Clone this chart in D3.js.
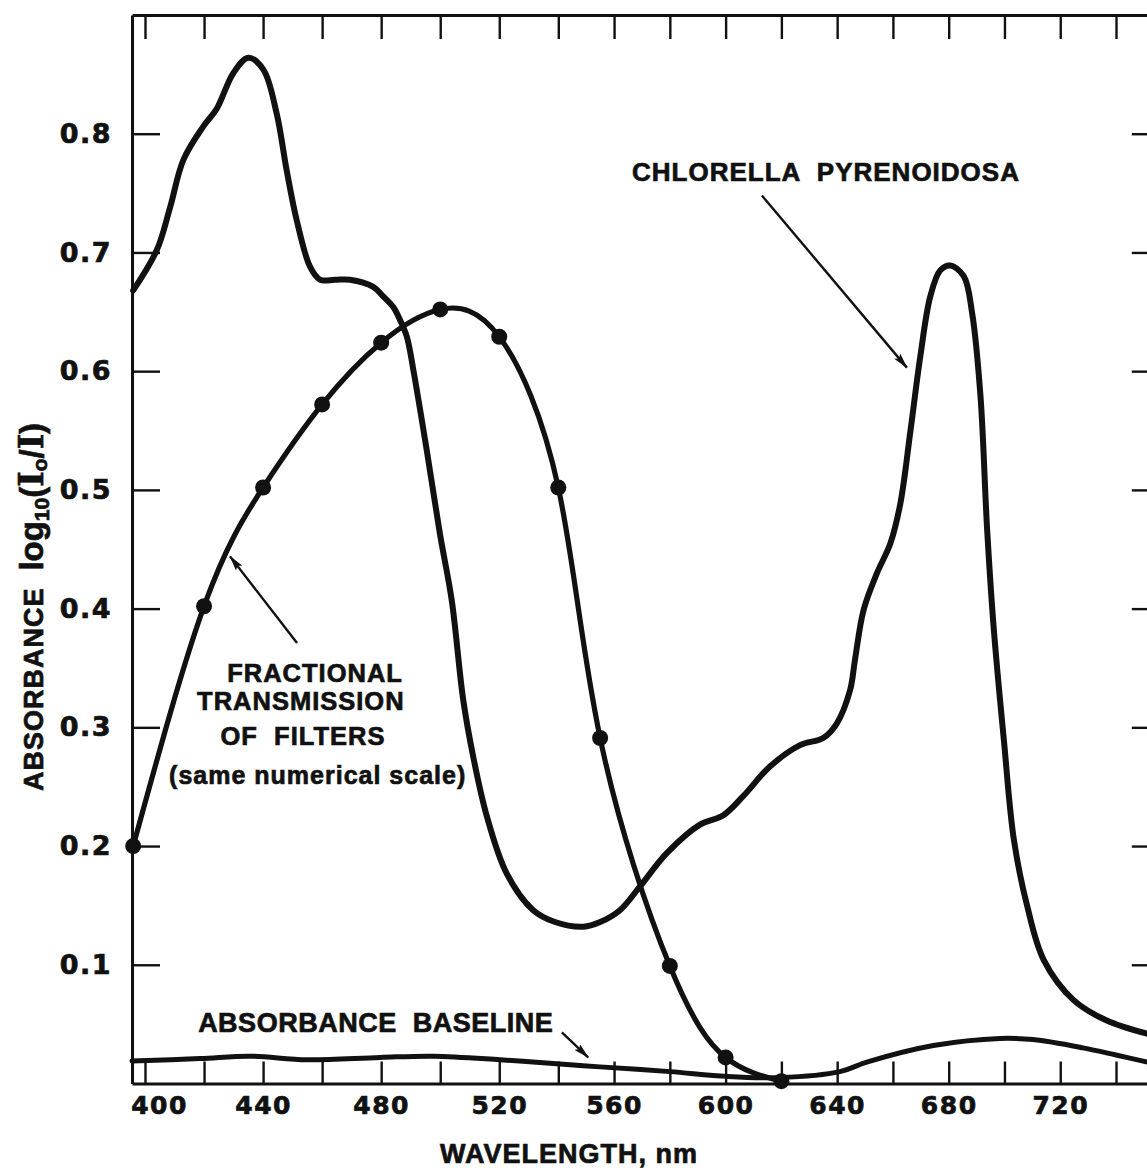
<!DOCTYPE html>
<html>
<head>
<meta charset="utf-8">
<script src="https://cdn.jsdelivr.net/npm/d3@7"></script>
<style>
  html, body { margin: 0; padding: 0; background: #fff; }
  svg { display: block; }
  text { font-family: "Liberation Sans", Arial, sans-serif; font-weight: bold; fill: #111; stroke: #111; stroke-width: 0.7px; }
</style>
</head>
<body>
<svg id="chart" width="1147" height="1170"></svg>
<script>
// Absorbance spectrum of a Chlorella pyrenoidosa suspension (wavelength in nm, log10(I0/I))
const chlorellaNm = [396, 404, 408.5, 413, 419.7, 424.3, 429.9, 435, 440.1, 444.6,
  448, 451.4, 455.9, 459.3, 464.4, 469.4, 477.3, 480.7, 484.1, 486.4,
  488.7, 490.9, 495.4, 499.9, 503.9, 507.8, 511.2, 515.8, 522.5, 531.5,
  538.9, 549, 555, 562.1, 569.3, 578.9, 590.8, 599.2, 606.3, 615.9,
  626.7, 635, 639.8, 644.6, 646.4, 649.5, 654.3, 659.1, 662.7, 666.3,
  669.8, 673.4, 677, 680.6, 685.4, 688.4, 691.4, 693.8, 696.2, 699.8,
  703.4, 708.2, 714.1, 724.9, 736.7, 751.1];
const chlorellaAbs = [0.668, 0.702, 0.738, 0.778, 0.806, 0.821, 0.851, 0.864, 0.854, 0.817,
  0.769, 0.727, 0.688, 0.677, 0.677, 0.677, 0.671, 0.663, 0.654, 0.643,
  0.629, 0.601, 0.534, 0.463, 0.407, 0.323, 0.275, 0.225, 0.177, 0.146,
  0.136, 0.132, 0.136, 0.146, 0.166, 0.194, 0.218, 0.226, 0.242, 0.267,
  0.285, 0.291, 0.303, 0.331, 0.357, 0.399, 0.430, 0.455, 0.489, 0.550,
  0.612, 0.663, 0.685, 0.689, 0.680, 0.649, 0.579, 0.466, 0.382, 0.289,
  0.205, 0.149, 0.104, 0.070, 0.053, 0.042];

// Fractional transmission of the interference filters (same numerical scale)
const filterNm  = [396, 420, 440, 460, 480, 500, 520, 540, 555, 580, 600, 620];
const filterVal = [0.200, 0.402, 0.502, 0.572, 0.624, 0.652, 0.629, 0.502, 0.291, 0.099, 0.022, 0.002];

// Absorbance baseline (blank)
const baselineNm  = [395.6, 418.6, 435.6, 454.8, 479.6, 497.6, 520.3, 543, 555, 580,
  600.4, 619.5, 641, 650.6, 674.5, 698.4, 710.3, 728.2, 740, 751.3];
const baselineAbs = [0.019, 0.021, 0.023, 0.020, 0.022, 0.023, 0.020, 0.016, 0.014, 0.010,
  0.006, 0.005, 0.010, 0.018, 0.032, 0.038, 0.037, 0.030, 0.024, 0.018];

// Axis ticks
const wavelengthTicks  = [400, 420, 440, 460, 480, 500, 520, 540, 560, 580, 600, 620, 640, 660, 680, 700, 720, 740];
const wavelengthLabels = [400, 440, 480, 520, 560, 600, 640, 680, 720];
const absorbanceTicks  = [0.1, 0.2, 0.3, 0.4, 0.5, 0.6, 0.7, 0.8];

const svg = d3.select("#chart");
const ink = "#111";

// The hand-ruled wavelength axis is slightly uneven, so the scale is piecewise linear.
const x = d3.scaleLinear()
  .domain([395.6, 400, 540, 740, 755])
  .range([132, 145, 558.3, 1116, 1157.8]);
const y = d3.scaleLinear().domain([0, 0.9]).range([1083.5, 15]);

const xMin = 395.6, xMax = 755, yMax = 0.9;

function styleAxis(g, fontSize) {
  g.select(".domain").attr("stroke", ink).attr("stroke-width", 3);
  g.selectAll(".tick line").attr("stroke", ink).attr("stroke-width", 2.4);
  g.selectAll(".tick text")
    .attr("fill", ink)
    .style("font-family", '"DejaVu Sans", sans-serif')
    .style("font-weight", "bold")
    .style("font-size", fontSize + "px")
    .style("letter-spacing", "1.5px");
}

// bottom axis with labels
const gBottom = svg.append("g")
  .attr("transform", `translate(0,${y(0)})`)
  .call(d3.axisBottom(x).tickValues(wavelengthTicks)
    .tickSizeInner(-22).tickSizeOuter(0).tickPadding(13)
    .tickFormat(d => wavelengthLabels.includes(d) ? d : ""));
styleAxis(gBottom, 25);
gBottom.selectAll(".tick text").filter(d => d === 400).attr("dx", 14);

// top axis (ticks only)
const gTop = svg.append("g")
  .attr("transform", `translate(0,${y(yMax)})`)
  .call(d3.axisTop(x).tickValues(wavelengthTicks)
    .tickSizeInner(-24).tickSizeOuter(0).tickFormat(""));
styleAxis(gTop, 25);

// left axis with labels
const gLeft = svg.append("g")
  .attr("transform", `translate(${x(xMin)},0)`)
  .call(d3.axisLeft(y).tickValues(absorbanceTicks)
    .tickSizeInner(-28).tickSizeOuter(0).tickPadding(20)
    .tickFormat(d3.format(".1f")));
styleAxis(gLeft, 27);

// right axis (ticks only)
const gRight = svg.append("g")
  .attr("transform", `translate(${x(xMax)},0)`)
  .call(d3.axisRight(y).tickValues(absorbanceTicks)
    .tickSizeInner(-26).tickSizeOuter(0).tickFormat(""));
styleAxis(gRight, 25);

// curves
const smooth = d3.line()
  .x(d => x(d[0]))
  .y(d => y(d[1]))
  .curve(d3.curveCatmullRom.alpha(0.5));
const natural = d3.line()
  .x(d => x(d[0]))
  .y(d => y(d[1]))
  .curve(d3.curveNatural);

const chlorella = chlorellaNm.map((n, i) => [n, chlorellaAbs[i]]);
const filter    = filterNm.map((n, i) => [n, filterVal[i]]);
const baseline  = baselineNm.map((n, i) => [n, baselineAbs[i]]);

svg.append("path").datum(baseline)
  .attr("d", smooth).attr("fill", "none").attr("stroke", ink)
  .attr("stroke-width", 5).attr("stroke-linejoin", "round").attr("stroke-linecap", "round");

svg.append("path").datum(chlorella)
  .attr("d", smooth).attr("fill", "none").attr("stroke", ink)
  .attr("stroke-width", 6).attr("stroke-linejoin", "round").attr("stroke-linecap", "round");

svg.append("path").datum(filter)
  .attr("d", natural).attr("fill", "none").attr("stroke", ink)
  .attr("stroke-width", 5.2).attr("stroke-linejoin", "round").attr("stroke-linecap", "round");

svg.append("g").selectAll("circle").data(filter).join("circle")
  .attr("cx", d => x(d[0])).attr("cy", d => y(d[1])).attr("r", 8).attr("fill", ink);

// arrowhead
svg.append("defs").append("marker")
  .attr("id", "arrow")
  .attr("viewBox", "0 0 16 8")
  .attr("markerUnits", "userSpaceOnUse")
  .attr("markerWidth", 16).attr("markerHeight", 8)
  .attr("refX", 15).attr("refY", 4)
  .attr("orient", "auto")
  .append("path").attr("d", "M0,0 L16,4 L0,8 L3,4 Z").attr("fill", ink);

function arrow(from, to) {
  svg.append("line")
    .attr("x1", x(from[0])).attr("y1", y(from[1]))
    .attr("x2", x(to[0])).attr("y2", y(to[1]))
    .attr("stroke", ink).attr("stroke-width", 2.4)
    .attr("marker-end", "url(#arrow)");
}

// annotation: species label
svg.append("text")
  .attr("x", x(636)).attr("y", y(0.760))
  .attr("text-anchor", "middle")
  .attr("xml:space", "preserve")
  .style("font-size", "26px").style("letter-spacing", "1px")
  .text("CHLORELLA  PYRENOIDOSA");
arrow([613, 0.748], [665, 0.603]);

// annotation: filter transmission
const filterNote = [
  { t: "FRACTIONAL", nm: 457.6, v: 0.338, size: 25.5 },
  { t: "TRANSMISSION", nm: 452.8, v: 0.315, size: 25.5 },
  { t: "OF  FILTERS", nm: 453.5, v: 0.285, size: 25.5 },
  { t: "(same numerical scale)", nm: 458.5, v: 0.252, size: 25 }
];
svg.append("g").selectAll("text").data(filterNote).join("text")
  .attr("x", d => x(d.nm)).attr("y", d => y(d.v))
  .attr("text-anchor", "middle")
  .attr("xml:space", "preserve")
  .style("font-size", d => d.size + "px").style("letter-spacing", "1px")
  .text(d => d.t);
arrow([451.5, 0.371], [428.8, 0.444]);

// annotation: baseline
svg.append("text")
  .attr("x", x(418)).attr("y", y(0.043))
  .attr("xml:space", "preserve")
  .style("font-size", "27px").style("letter-spacing", "0.5px")
  .text("ABSORBANCE  BASELINE");
arrow([541.3, 0.043], [550.7, 0.022]);

// axis titles
svg.append("text")
  .attr("x", 569).attr("y", 1163)
  .attr("text-anchor", "middle")
  .style("font-size", "27px").style("letter-spacing", "1px")
  .text("WAVELENGTH, nm");

const yTitle = svg.append("text")
  .attr("transform", "translate(43,607) rotate(-90)")
  .attr("text-anchor", "middle")
  .attr("xml:space", "preserve")
  .style("font-size", "27px").style("letter-spacing", "1px");
yTitle.append("tspan").text("ABSORBANCE  ");
yTitle.append("tspan").style("font-size", "33px").style("letter-spacing", "0px").text("log");
yTitle.append("tspan").attr("dy", 6).style("font-size", "21px").style("letter-spacing", "0px").text("10");
yTitle.append("tspan").attr("dy", -6).style("font-size", "33px").style("letter-spacing", "0px").text("(");
yTitle.append("tspan").style("font-size", "33px").style("letter-spacing", "0px").style("font-family", '"DejaVu Serif", serif').text("I");
yTitle.append("tspan").attr("dy", 4).style("font-size", "21px").style("letter-spacing", "0px").text("o");
yTitle.append("tspan").attr("dy", -4).style("font-size", "33px").style("letter-spacing", "0px").text("/");
yTitle.append("tspan").style("font-size", "33px").style("letter-spacing", "0px").style("font-family", '"DejaVu Serif", serif').text("I");
yTitle.append("tspan").style("font-size", "33px").style("letter-spacing", "0px").text(")");
</script>
</body>
</html>
